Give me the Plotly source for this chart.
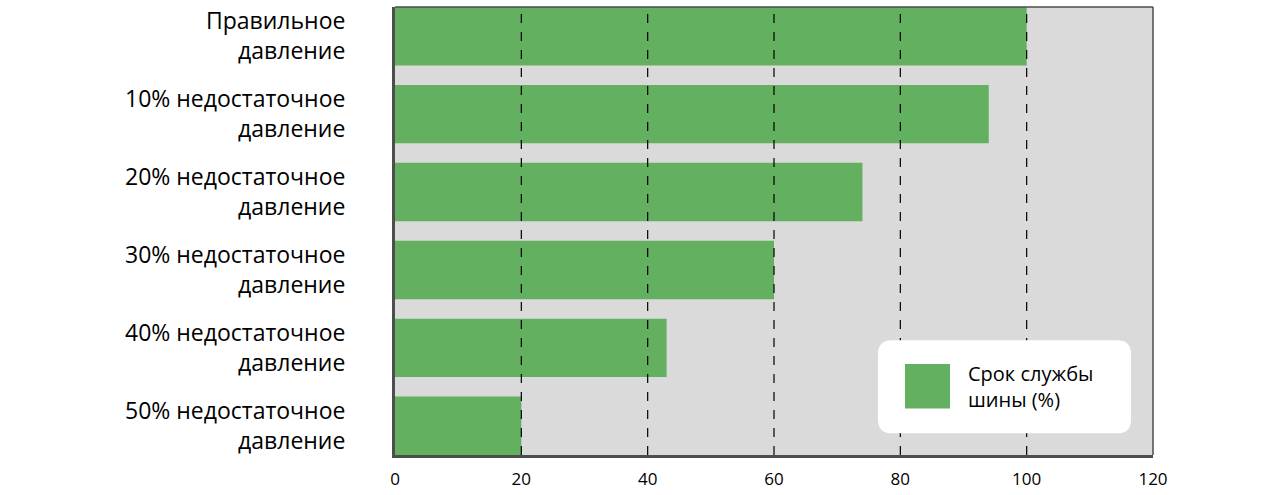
import plotly.graph_objects as go

categories = [
    "Правильное<br>давление",
    "10% недостаточное<br>давление",
    "20% недостаточное<br>давление",
    "30% недостаточное<br>давление",
    "40% недостаточное<br>давление",
    "50% недостаточное<br>давление",
]
values = [100, 94, 74, 60, 43, 20]
x_ticks = [0, 20, 40, 60, 80, 100, 120]
grid_ticks = [20, 40, 60, 80, 100]
series_name = "Срок службы<br>шины (%)"

GREEN = "#62b060"
BG = "#dadada"
AXIS = "#4d4d4d"
FONT = "Open Sans"

fig = go.Figure()
fig.add_trace(go.Bar(
    x=values, y=categories, orientation="h",
    marker=dict(color=GREEN, line=dict(width=0)),
    width=0.75, showlegend=False, name=series_name,
))

shapes = []
for g in grid_ticks:
    shapes.append(dict(type="line", xref="x", yref="paper", x0=g, x1=g, y0=0, y1=1,
                       line=dict(color="black", width=1.2, dash="dash"), layer="above"))
shapes.append(dict(type="line", xref="paper", yref="paper", x0=0, x1=1, y0=1, y1=1,
                   line=dict(color=AXIS, width=1.5), layer="above"))
shapes.append(dict(type="line", xref="paper", yref="paper", x0=1, x1=1, y0=0, y1=1,
                   line=dict(color=AXIS, width=1.5), layer="above"))

W, H = 1280, 495
ml, mr, mt, mb = 395, 127, 5, 37
pw, ph = W - ml - mr, H - mt - mb

def px(xp):
    return (xp - ml) / pw

def py(yp):
    return 1 - (yp - mt) / ph

x0, x1, y0, y1, r = px(878), px(1131), py(436), py(342), 14
rx, ry = r / pw, r / ph
path = (f"M {x0+rx},{y0} L {x1-rx},{y0} Q {x1},{y0} {x1},{y0+ry} "
        f"L {x1},{y1-ry} Q {x1},{y1} {x1-rx},{y1} L {x0+rx},{y1} "
        f"Q {x0},{y1} {x0},{y1-ry} L {x0},{y0+ry} Q {x0},{y0} {x0+rx},{y0} Z")
shapes.append(dict(type="path", xref="paper", yref="paper", path=path,
                   fillcolor="white", line=dict(width=0), layer="above"))
shapes.append(dict(type="rect", xref="paper", yref="paper",
                   x0=px(905), x1=px(950), y0=py(411), y1=py(366),
                   fillcolor=GREEN, line=dict(width=0), layer="above"))

fig.update_layout(
    width=W, height=H,
    margin=dict(l=ml, r=mr, t=mt, b=mb),
    paper_bgcolor="white", plot_bgcolor=BG,
    font=dict(family=FONT, color="black"),
    shapes=shapes,
    annotations=[dict(xref="paper", yref="paper", x=px(966), y=py(389),
                      xanchor="left", yanchor="middle", align="left",
                      text=series_name, showarrow=False,
                      font=dict(family=FONT, size=20, color="black"))],
    xaxis=dict(range=[0, 120], tickvals=x_ticks, showgrid=False, zeroline=False,
               showline=True, linecolor=AXIS, linewidth=3,
               ticks="outside", ticklen=7, tickcolor="rgba(0,0,0,0)",
               tickfont=dict(size=17, family=FONT)),
    yaxis=dict(range=[5.375, -0.375], showgrid=False, zeroline=False,
               showline=True, linecolor=AXIS, linewidth=3,
               ticks="outside", ticklen=42, tickcolor="rgba(0,0,0,0)",
               tickfont=dict(size=23, family=FONT)),
)

fig.write_html("out.html", config={"displayModeBar": False},
               post_script="document.body.style.margin='0';document.body.style.overflow='hidden';")
